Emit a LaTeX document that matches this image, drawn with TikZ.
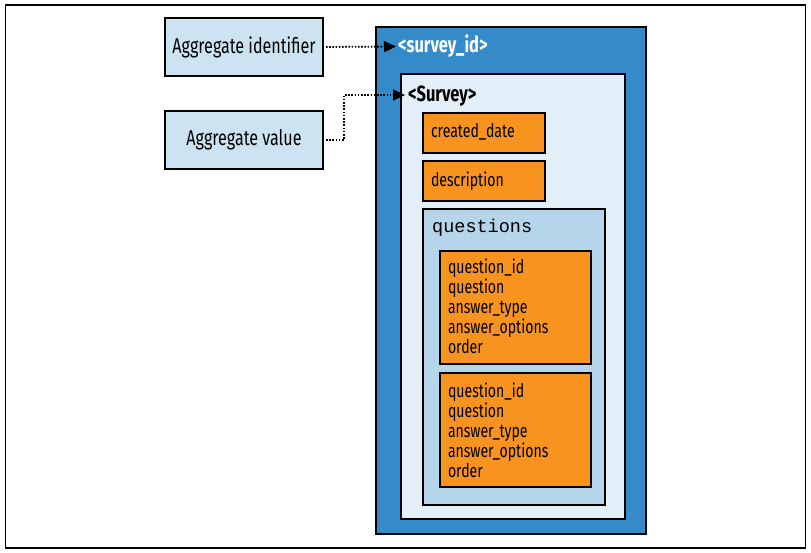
\documentclass[tikz,border=0pt]{standalone}
\usepackage{fontspec}
\setmainfont{Fira Sans}[FakeStretch=0.75]
\newfontfamily\qmono{Liberation Mono}
\usetikzlibrary{arrows.meta}
\definecolor{outerblue}{HTML}{358BC9}
\definecolor{innerlight}{HTML}{E3EFF8}
\definecolor{qblue}{HTML}{B4D5EA}
\definecolor{orangebox}{HTML}{F7931E}
\definecolor{labelblue}{HTML}{CCE3F1}
\tikzset{
  boxbase/.style={draw=black, line width=2pt, inner sep=0pt, outer sep=0pt},
  lbox/.style={boxbase, fill=labelblue, font=\fontsize{21.5}{24}\selectfont},
  container/.style={boxbase},
  obox/.style={boxbase, fill=orangebox},
  txt/.style={anchor=base west, inner sep=0pt, outer sep=0pt, font=\fontsize{18.8}{20}\selectfont},
  hdr/.style={anchor=base west, inner sep=0pt, outer sep=0pt, font=\fontsize{22}{24}\selectfont\bfseries},
  conn/.style={line width=1.8pt, dash pattern=on 1.6pt off 1.6pt, -{Triangle[length=12pt,width=11pt]}}
}
\begin{document}
\begin{tikzpicture}[x=1pt,y=-1pt]
\useasboundingbox (0,0) rectangle (811,553);
\draw[line width=1.2pt] (5.5,5) rectangle (805.5,548);
% left label boxes
\node[lbox, minimum width=158pt, minimum height=58pt] (aid) at (244,47) {Aggregate identifier};
\node[lbox, minimum width=158pt, minimum height=58pt] (aval) at (244,140) {Aggregate value};
% containers
\node[container, fill=outerblue, minimum width=270pt, minimum height=507pt] (outer) at (511,280.5) {};
\node[container, fill=innerlight, minimum width=224pt, minimum height=445pt] (inner) at (513,296.5) {};
\node[obox, minimum width=122pt, minimum height=40pt] (cd) at (484,133) {};
\node[obox, minimum width=122pt, minimum height=40pt] (desc) at (484,181) {};
\node[container, fill=qblue, minimum width=182pt, minimum height=296pt] (qs) at (514,357) {};
\node[obox, minimum width=151pt, minimum height=113pt] (q1) at (515.5,307.5) {};
\node[obox, minimum width=151pt, minimum height=114pt] (q2) at (515.5,430) {};
% texts
\node[hdr, text=white] (sid) at (398,53) {<survey\_id>};
\node[hdr] (sv) at (408,102) {<Survey>};
\node[txt] (cdt) at (431,138) {created\_date};
\node[txt] (desct) at (431,186.5) {description};
\node[anchor=base west, inner sep=0pt, font=\qmono\fontsize{18.5}{20}\selectfont] (qst) at (432,232.5) {questions};
\foreach \t [count=\i] in {question\_id, question, answer\_type, answer\_options, order} {
  \node[txt] (qa\i) at (448,253.5+20*\i) {\t};
  \node[txt] (qb\i) at (448,377+20*\i) {\t};
}
% connectors
\coordinate (t1) at (396,46.5);
\coordinate (t2) at (405,95);
\draw[conn, shorten <=3pt] (aid.east) -- (t1);
\draw[conn, shorten <=3pt] (aval.east) -- ++(21,0) |- (t2);
\end{tikzpicture}
\end{document}
